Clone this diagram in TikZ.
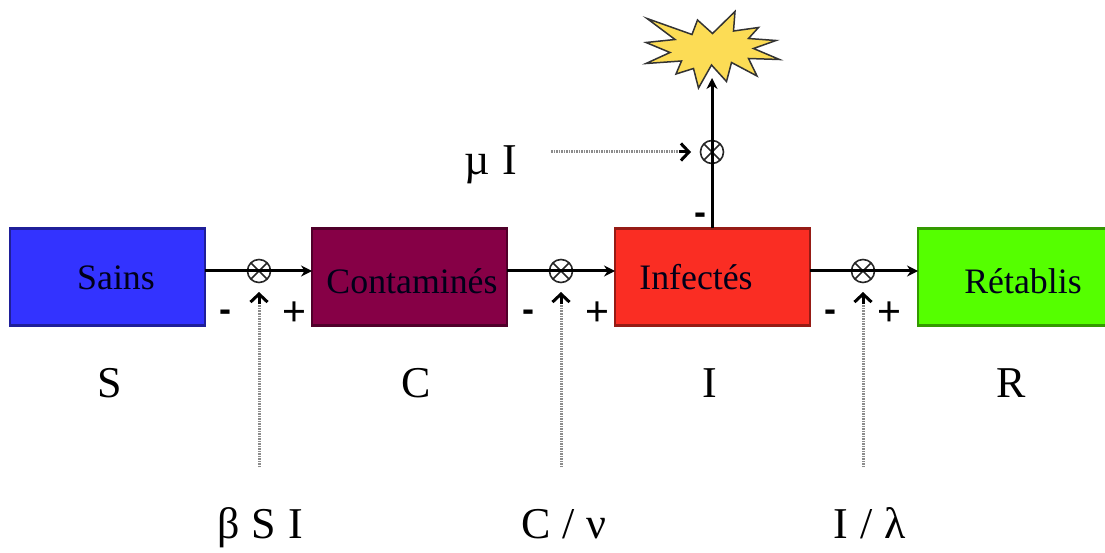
\documentclass[tikz,border=0pt]{standalone}
\usepackage{fontspec}
\setmainfont{Liberation Serif}
\newfontfamily\symfont{Liberation Sans}
\newfontfamily\widefont[WordSpace=1.1]{Liberation Serif}
\usetikzlibrary{arrows.meta}
\definecolor{cblue}{RGB}{51,51,255}
\definecolor{cplum}{RGB}{134,0,70}
\definecolor{cred}{RGB}{250,45,35}
\definecolor{cgreen}{RGB}{85,255,0}
\definecolor{cstar}{RGB}{252,220,85}
\tikzset{
  x=1pt,y=-1pt,
  stock/.style={draw=#1!60!black,line width=2.4pt,minimum width=195pt,minimum height=97pt,inner sep=0pt,outer sep=0pt,anchor=center},
  boxtext/.style={font=\fontsize{35.8}{36}\selectfont,inner sep=0pt,anchor=base,text=black!90!blue},
  lbl/.style={font=\widefont\fontsize{44}{44}\selectfont,inner sep=0pt,anchor=base},
  minus/.style={font=\symfont\bfseries\fontsize{36}{36}\selectfont,inner sep=0pt,anchor=base},
  plus/.style={font=\symfont\fontsize{41}{41}\selectfont,inner sep=0pt,anchor=base},
  gate/.style={circle,draw=black!85,line width=1.6pt,minimum size=23pt,inner sep=0pt,outer sep=0pt,
    path picture={\draw[black!85,line width=1.6pt] (path picture bounding box.north west)--(path picture bounding box.south east)
      (path picture bounding box.north east)--(path picture bounding box.south west);}},
  flow/.style={line width=3pt,-{Stealth[length=11pt,width=11pt]}},
  info/.style={line width=3pt,black!45,dash pattern=on 1.5pt off 1pt},
  infohead/.style={line width=3pt,black,-{Straight Barb[length=8pt,width=17pt,line width=3pt]}},
}
\begin{document}
\begin{tikzpicture}
\useasboundingbox (0,0) rectangle (1105,553);
% stocks
\node[stock=cblue,fill=cblue] (S) at (107.5,277) {};
\node[stock=cplum,fill=cplum] (C) at (409.5,277) {};
\node[stock=cred,fill=cred] (I) at (712.5,277) {};
\node[stock=cgreen,fill=cgreen] (R) at (1015.5,277) {};
\node[boxtext] (tS) at (116,289) {Sains};
\node[boxtext] (tC) at (412,293) {Contaminés};
\node[boxtext] (tI) at (696,290) {Infectés};
\node[boxtext] (tR) at (1023,293) {Rétablis};
% gates
\node[gate] (g1) at (259,271) {};
\node[gate] (g2) at (561,271) {};
\node[gate] (g3) at (863,271) {};
\node[gate] (g4) at (712,152) {};
% burst
\draw[fill=cstar,draw=black!80,line width=1.5pt,line join=miter] (647,18.5) coordinate (b0)
 -- (692,34.5) -- (697.5,20) -- (712.5,33.5) -- (735,11.5) -- (733.5,31) -- (758.5,27.5) -- (748.5,38.5)
 -- (776,40.5) -- (753.5,48.5) -- (779.5,59.5) -- (748.5,58.5) -- (757,76) -- (731.5,62.5) -- (726.5,81.5)
 -- (711.5,65) -- (698.5,88) -- (693.5,68.5) -- (676,74) -- (681.5,61) -- (646,63.5) -- (670,52.5)
 -- (646,42.5) -- (675,39.5) -- cycle;
\coordinate (burst) at (712,78);
% flows
\draw[flow] (S.east |- g1) -- (C.west |- g1);
\draw[flow] (C.east |- g2) -- (I.west |- g2);
\draw[flow] (I.east |- g3) -- (R.west |- g3);
\draw[flow] (I.north -| g4) -- (burst);
% info flows
\coordinate (f1) at (259,467);
\coordinate (f2) at (561,467);
\coordinate (f3) at (863,467);
\coordinate (f4) at (551,152);
\coordinate (h1) at (259,292);
\coordinate (h2) at (561,292);
\coordinate (h3) at (863,292);
\coordinate (h4) at (691,152);
\draw[info] (f1) -- (259,302);
\draw[info] (f2) -- (561,302);
\draw[info] (f3) -- (863,302);
\draw[info] (f4) -- (681,152);
\draw[infohead] (259,304) -- (h1);
\draw[infohead] (561,304) -- (h2);
\draw[infohead] (863,304) -- (h3);
\draw[infohead] (679,152) -- (h4);
% signs
\node[minus] (m1) at (225,321) {-};
\node[plus] (p1) at (294,325) {+};
\node[minus] (m2) at (528,321) {-};
\node[plus] (p2) at (597,325) {+};
\node[minus] (m3) at (830,321) {-};
\node[plus] (p3) at (889,325) {+};
\node[minus] (m4) at (700,225) {-};
% labels
\node[lbl] (lS) at (110,397) {S};
\node[lbl] (lC) at (416,397) {C};
\node[lbl] (lI) at (710,397) {I};
\node[lbl] (lR) at (1011,397) {R};
\node[lbl] (l1) at (260,538) {β S I};
\node[lbl] (l2) at (564,538) {C / ν};
\node[lbl] (l3) at (870,538) {I / λ};
\node[lbl] (l4) at (491,175) {µ I};
\end{tikzpicture}
\end{document}
